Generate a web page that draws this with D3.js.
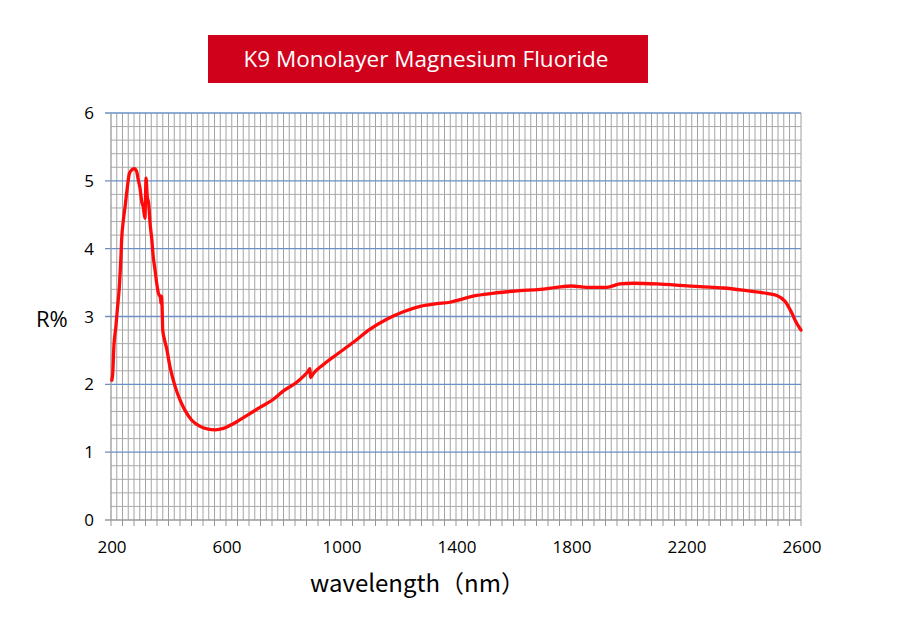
<!DOCTYPE html>
<html>
<head>
<meta charset="utf-8">
<script src="https://cdn.jsdelivr.net/npm/d3@7"></script>
<style>
  html, body { margin: 0; padding: 0; background: #fff; }
  svg { display: block; }
</style>
</head>
<body>
<svg id="chart" width="921" height="617"></svg>
<script>
// ---- data ----
const title = "K9 Monolayer Magnesium Fluoride";
const xLabel = "wavelength（nm）";
const yLabel = "R%";
const xTickLabels = [200, 600, 1000, 1400, 1800, 2200, 2600];
const yTickLabels = [0, 1, 2, 3, 4, 5, 6];
const wavelength = [203,206,210,217,222,229,234,237,243,249,257,264,272,281,289,295,301,307,312,318,322,326,331,336,342,347,353,359,365,372,374,376,378,380,386,394,405,423,440,457,481,510,538,562,591,625,672,718,765,799,846,870,885,892,894,904,938,985,1043,1100,1159,1217,1275,1333,1379,1414,1472,1541,1622,1692,1750,1802,1855,1924,1970,2017,2098,2179,2249,2330,2411,2481,2516,2545,2568,2585,2600];
const reflectance = [2.06,2.16,2.56,2.85,3.10,3.44,3.83,4.13,4.42,4.62,4.91,5.11,5.16,5.18,5.14,5.01,4.89,4.69,4.62,4.45,5.04,4.77,4.67,4.37,4.13,3.88,3.69,3.49,3.34,3.28,3.19,3.30,3.10,2.80,2.66,2.52,2.26,1.97,1.77,1.62,1.47,1.38,1.34,1.33,1.35,1.42,1.54,1.66,1.78,1.90,2.03,2.12,2.19,2.23,2.10,2.16,2.29,2.44,2.62,2.81,2.96,3.07,3.15,3.19,3.21,3.25,3.31,3.35,3.38,3.40,3.43,3.45,3.43,3.43,3.48,3.49,3.48,3.46,3.44,3.42,3.38,3.34,3.31,3.22,3.05,2.90,2.80];

const data = wavelength.map((w, i) => ({ w, r: reflectance[i] }));

// ---- layout ----
const svg = d3.select("#chart");
const L = 111, R = 801, T = 113, B = 520;
const x = d3.scaleLinear().domain([200, 2600]).range([L, R]);
const y = d3.scaleLinear().domain([0, 6]).range([B, T]);

// title box
svg.append("rect")
  .attr("x", 208).attr("y", 35).attr("width", 440).attr("height", 48)
  .attr("fill", "#d0021b");
svg.append("text")
  .attr("x", 426).attr("y", 67)
  .attr("text-anchor", "middle")
  .attr("fill", "#fff")
  .style("font-family", "'Open Sans', 'Noto Sans', sans-serif")
  .style("font-size", "22.5px")
  .text(title);

// grid
const g = svg.append("g");
const xMinor = d3.range(220, 2600, 20);
g.selectAll("line.vx").data(xMinor).join("line")
  .attr("x1", d => x(d)).attr("x2", d => x(d))
  .attr("y1", T).attr("y2", B)
  .attr("stroke", "#a4a4a4").attr("stroke-width", 1);
const yMinor = d3.range(0.2, 6, 0.2).filter(v => Math.abs(v - Math.round(v)) > 1e-6);
g.selectAll("line.hy").data(yMinor).join("line")
  .attr("x1", L).attr("x2", R)
  .attr("y1", d => y(d)).attr("y2", d => y(d))
  .attr("stroke", "#aaaaaa").attr("stroke-width", 1);
// right edge
g.append("line").attr("x1", x(2600)).attr("x2", x(2600)).attr("y1", T).attr("y2", B)
  .attr("stroke", "#a0a0a0");
// major horizontals (blue)
g.selectAll("line.hmaj").data(yTickLabels.filter(v => v > 0)).join("line")
  .attr("x1", L - 6).attr("x2", R)
  .attr("y1", d => y(d)).attr("y2", d => y(d))
  .attr("stroke", "#6a90c6").attr("stroke-width", 1.3);

// axes
g.append("line").attr("x1", L).attr("x2", L).attr("y1", T).attr("y2", B)
  .attr("stroke", "#999").attr("stroke-width", 1.3);
g.append("line").attr("x1", L - 6).attr("x2", R).attr("y1", B).attr("y2", B)
  .attr("stroke", "#999").attr("stroke-width", 1.3);
// bottom ticks every 40
g.selectAll("line.xt").data(d3.range(200, 2601, 40)).join("line")
  .attr("x1", d => x(d)).attr("x2", d => x(d))
  .attr("y1", B).attr("y2", B + 6)
  .attr("stroke", "#999").attr("stroke-width", 1);

// tick labels
const font = "'Open Sans', 'Noto Sans', sans-serif";
svg.selectAll("text.xl").data(xTickLabels).join("text")
  .attr("x", d => x(d) + 1).attr("y", 553)
  .attr("text-anchor", "middle")
  .style("font-family", font).style("font-size", "17px").attr("fill", "#000")
  .text(d => d);
svg.selectAll("text.yl").data(yTickLabels).join("text")
  .attr("x", 94).attr("y", d => y(d) + 6)
  .attr("text-anchor", "end")
  .style("font-family", font).style("font-size", "17px").attr("fill", "#000")
  .text(d => d);

// axis titles
svg.append("text")
  .attr("x", 36).attr("y", 327)
  .style("font-family", font).style("font-size", "22px").attr("fill", "#000")
  .text(yLabel);
svg.append("text")
  .attr("x", 310).attr("y", 592)
  .style("font-family", "'Noto Sans CJK SC', 'Open Sans', sans-serif").style("font-size", "24px").attr("fill", "#000")
  .text(xLabel);

// curve
const line = d3.line().x(d => x(d.w)).y(d => y(d.r)).curve(d3.curveMonotoneX);
svg.append("path")
  .datum(data)
  .attr("d", line)
  .attr("fill", "none")
  .attr("stroke", "#ff0a0a")
  .attr("stroke-width", 3.3)
  .attr("stroke-linejoin", "round")
  .attr("stroke-linecap", "round");
</script>
</body>
</html>
